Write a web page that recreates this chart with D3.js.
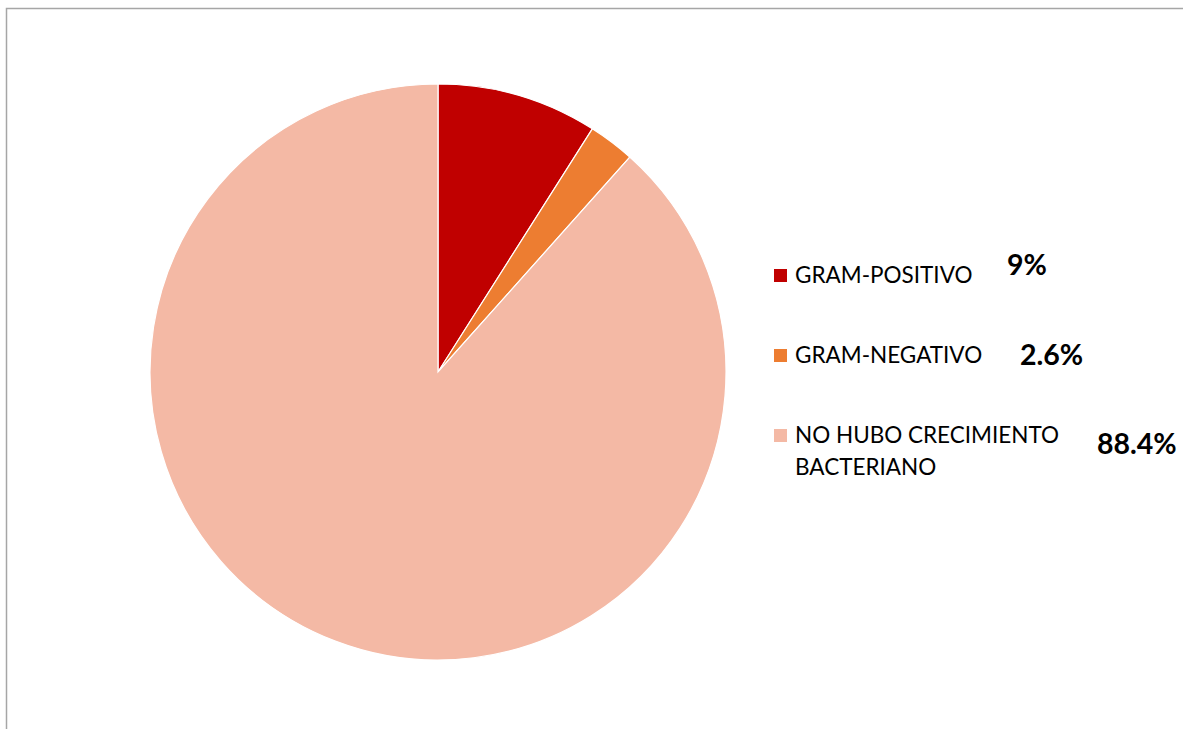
<!DOCTYPE html>
<html>
<head>
<meta charset="utf-8">
<script src="https://cdn.jsdelivr.net/npm/d3@7"></script>
<style>
    body { margin: 0; background: #fff; }
    svg { display: block; }
    .legend text { font-family: Lato, "Open Sans", sans-serif; fill: #000; }
    .pct { font-family: Lato, "Open Sans", sans-serif; font-weight: bold; fill: #000; }
</style>
</head>
<body>
<svg id="chart"></svg>
<script>
const categories = ["GRAM-POSITIVO", "GRAM-NEGATIVO", "NO HUBO CRECIMIENTO BACTERIANO"];
const labelLines = [["GRAM-POSITIVO"], ["GRAM-NEGATIVO"], ["NO HUBO CRECIMIENTO", "BACTERIANO"]];
const values = [9, 2.6, 88.4];
const pctLabels = ["9%", "2.6%", "88.4%"];
const colors = ["#C00000", "#ED7D31", "#F4B9A5"];

const WIDTH = 1183, HEIGHT = 729;
const CX = 438, CY = 372, R = 288;

const svg = d3.select("#chart")
    .attr("width", WIDTH)
    .attr("height", HEIGHT);

// frame: only top and left edges show in the picture
svg.append("path")
    .attr("d", `M6.5,${HEIGHT} V8.5 H${WIDTH}`)
    .attr("fill", "none")
    .attr("stroke", "#a6a6a6")
    .attr("stroke-width", 1.5);

const color = d3.scaleOrdinal().domain(categories).range(colors);

const pie = d3.pie().sort(null).value(d => d.value);
const arc = d3.arc().innerRadius(0).outerRadius(R);

const data = categories.map((c, i) => ({ name: c, value: values[i] }));

svg.append("g")
    .attr("transform", `translate(${[CX, CY]})`)
    .selectAll("path")
    .data(pie(data))
    .enter()
    .append("path")
    .attr("d", arc)
    .attr("fill", d => color(d.data.name))
    .attr("stroke", "#fff")
    .attr("stroke-width", 1.2);

// legend
const legendY = d3.scalePoint().domain(categories).range([269, 429]);

const legend = svg.append("g").attr("class", "legend");
const items = legend.selectAll("g")
    .data(categories)
    .enter()
    .append("g")
    .attr("transform", d => `translate(${[774, legendY(d)]})`);

items.append("rect")
    .attr("width", 13)
    .attr("height", 13)
    .attr("fill", d => color(d));

items.append("text")
    .attr("x", 21)
    .attr("y", 14)
    .style("font-size", "22.5px")
    .each(function (d, i) {
        const t = d3.select(this);
        labelLines[i].forEach((line, j) => {
            t.append("tspan")
                .attr("x", 21)
                .attr("dy", j === 0 ? 0 : 32)
                .text(line);
        });
    });

// percentage labels beside the legend
const pctPos = [[1007, 275], [1020, 365], [1097, 454]];
svg.selectAll("text.pct")
    .data(pctLabels)
    .enter()
    .append("text")
    .attr("class", "pct")
    .attr("x", (d, i) => pctPos[i][0])
    .attr("y", (d, i) => pctPos[i][1])
    .style("font-size", "28.5px")
    .text(d => d);
</script>
</body>
</html>
